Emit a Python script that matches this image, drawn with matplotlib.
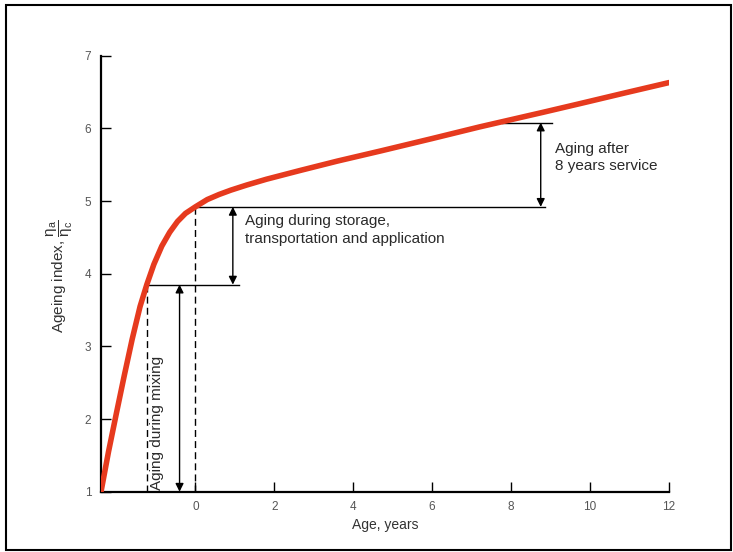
import matplotlib.pyplot as plt
from matplotlib.patches import Rectangle

# ageing index curve (age in years, index)
age = [-2.39, -2.2, -2.0, -1.8, -1.6, -1.4, -1.23, -1.05, -0.85, -0.65,
       -0.45, -0.25, 0.0, 0.3, 0.6, 0.9, 1.3, 1.8, 2.65, 3.6, 4.7, 6.0,
       7.2, 7.76, 8.8, 9.74, 10.9, 12.0]
index = [1.0, 1.55, 2.08, 2.6, 3.1, 3.55, 3.85, 4.13, 4.38, 4.57,
         4.72, 4.83, 4.92, 5.02, 5.09, 5.15, 5.22, 5.30, 5.42, 5.55, 5.69, 5.86,
         6.02, 6.09, 6.22, 6.34, 6.49, 6.63]

# stage markers
mix_end = (-1.23, 3.85)
apply_end = (0.0, 4.92)
service_end = (7.76, 6.08)

xticks = [0, 2, 4, 6, 8, 10, 12]
yticks = [1, 2, 3, 4, 5, 6, 7]

fig = plt.figure(figsize=(7.33, 5.52), dpi=100)
ax = fig.add_axes([0.1378, 0.1092, 0.9127 - 0.1378, 0.8991 - 0.1092])

ax.plot(age, index, color='#e63a1e', linewidth=4, solid_capstyle='round',
        solid_joinstyle='round', zorder=3)

# horizontal reference lines
ax.plot([mix_end[0], 1.1], [mix_end[1]] * 2, color='black', lw=1)
ax.plot([apply_end[0], 8.86], [apply_end[1]] * 2, color='black', lw=1)
ax.plot([service_end[0], 9.03], [service_end[1]] * 2, color='black', lw=1)

# dashed drop lines
ax.plot([mix_end[0]] * 2, [1, mix_end[1]], color='black', lw=1, ls=(0, (5, 3)))
ax.plot([apply_end[0]] * 2, [1, apply_end[1]], color='black', lw=1, ls=(0, (5, 3)))

arrow = dict(arrowstyle='<|-|>', color='black', lw=1, mutation_scale=12,
             shrinkA=0, shrinkB=0)
ax.annotate('', xy=(-0.4, 1), xytext=(-0.4, mix_end[1]), arrowprops=arrow)
ax.annotate('', xy=(0.95, mix_end[1]), xytext=(0.95, apply_end[1]), arrowprops=arrow)
ax.annotate('', xy=(8.75, apply_end[1]), xytext=(8.75, service_end[1]), arrowprops=arrow)

txt = dict(color='#2a2a2a', fontsize=11, family='Liberation Sans')
ax.text(-0.97, 1.02, 'Aging during mixing', rotation=90, ha='center', va='bottom', **txt)
ax.text(1.25, 4.6, 'Aging during storage,\ntransportation and application',
        ha='left', va='center', linespacing=1.35, **txt)
ax.text(9.1, 5.6, 'Aging after\n8 years service', ha='left', va='center',
        linespacing=1.35, **txt)

ax.set_xlim(-2.39, 12)
ax.set_ylim(1, 7)
ax.set_xticks(xticks)
ax.set_yticks(yticks)
ax.tick_params(direction='in', length=7, width=1, colors='black',
               labelcolor='#555555', labelsize=8.5, pad=7)
for lab in ax.get_xticklabels() + ax.get_yticklabels():
    lab.set_family('Liberation Sans')
for s in ['top', 'right']:
    ax.spines[s].set_visible(False)
for s in ['left', 'bottom']:
    ax.spines[s].set_linewidth(1.6)

ax.set_xlabel('Age, years', fontsize=10, color='#333333', family='Liberation Sans', labelpad=3)
fig.text(60 / 733, 1 - 276 / 552,
         r'Ageing index, $\dfrac{\mathregular{\eta_a}}{\mathregular{\eta_c}}$', rotation=90,
         ha='center', va='center', fontsize=11, color='#333333', family='Liberation Sans')

fig.patches.append(Rectangle((6 / 733, 2 / 552), 725 / 733, 545 / 552, transform=fig.transFigure,
                             fill=False, edgecolor='black', linewidth=1.5))

fig.savefig('out.png', dpi=100)
